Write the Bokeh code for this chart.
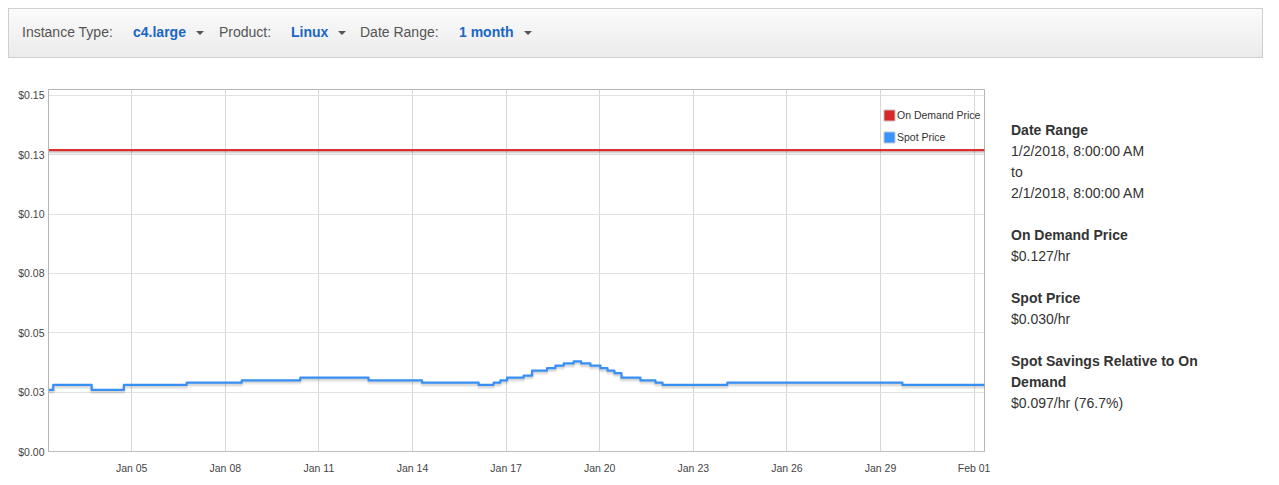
import pandas as pd
from bokeh.plotting import figure
from bokeh.models import (Div, FixedTicker, DatetimeTickFormatter, Range1d,
                          Legend, LegendItem, ColumnDataSource)
from bokeh.layouts import column, row
from bokeh.embed import file_html
from bokeh.resources import INLINE

# ---------------- data ----------------
instance_type = "c4.large"
product = "Linux"
date_range_label = "1 month"

range_start = "2018-01-02 08:00"
range_end = "2018-02-01 08:00"

on_demand_price = 0.127

spot_times = [
    "2018-01-02 08:00", "2018-01-02 11:40", "2018-01-03 17:10", "2018-01-04 18:00",
    "2018-01-06 18:20", "2018-01-08 12:40", "2018-01-10 09:40", "2018-01-12 14:10",
    "2018-01-14 07:20", "2018-01-16 02:50", "2018-01-16 14:25", "2018-01-16 19:35",
    "2018-01-17 00:45", "2018-01-17 13:30", "2018-01-17 20:00", "2018-01-18 07:30",
    "2018-01-18 13:55", "2018-01-18 20:20", "2018-01-19 04:00", "2018-01-19 09:45",
    "2018-01-19 16:50", "2018-01-20 00:35", "2018-01-20 06:00", "2018-01-20 11:20",
    "2018-01-20 16:45", "2018-01-21 07:20", "2018-01-21 18:55", "2018-01-22 00:20",
    "2018-01-24 02:10", "2018-01-29 16:50", "2018-02-01 08:00",
]
spot_prices = [
    0.0260, 0.0281, 0.0260, 0.0281,
    0.0290, 0.0300, 0.0311, 0.0300,
    0.0290, 0.0281, 0.0290, 0.0300,
    0.0311, 0.0320, 0.0341, 0.0351,
    0.0362, 0.0371, 0.0380, 0.0371,
    0.0362, 0.0351, 0.0341, 0.0330,
    0.0311, 0.0300, 0.0290, 0.0281,
    0.0290, 0.0281, 0.0281,
]

x_tick_dates = ["2018-01-05", "2018-01-08", "2018-01-11", "2018-01-14", "2018-01-17",
                "2018-01-20", "2018-01-23", "2018-01-26", "2018-01-29", "2018-02-01"]
y_ticks = [0.0, 0.025, 0.05, 0.075, 0.10, 0.125, 0.15]
y_tick_labels = ["$0.00", "$0.03", "$0.05", "$0.08", "$0.10", "$0.13", "$0.15"]

legend_labels = ["On Demand Price", "Spot Price"]

summary_range_from = "1/2/2018, 8:00:00 AM"
summary_range_to = "2/1/2018, 8:00:00 AM"
summary_on_demand = "$0.127/hr"
summary_spot = "$0.030/hr"
summary_savings = "$0.097/hr (76.7%)"

# ---------------- styles ----------------
FONT = "'Liberation Sans', Arial, sans-serif"
RED = "#d9302f"
BLUE = "#3890f4"
Y_END = 0.1525
FRAME_H = 362

# ---------------- header ----------------
def caret(left):
    return (f'<span style="position:absolute;left:{left}px;top:22px;width:0;height:0;'
            f'border-left:4px solid transparent;border-right:4px solid transparent;'
            f'border-top:4px solid #555;"></span>')

def lab(left, txt):
    return (f'<span style="position:absolute;left:{left}px;top:15px;line-height:16px;'
            f'color:#555;">{txt}</span>')

def val(left, txt):
    return (f'<span style="position:absolute;left:{left}px;top:15px;line-height:16px;'
            f'color:#1a66c4;font-weight:bold;">{txt}</span>')

header_html = (
    f'<div style="position:relative;box-sizing:border-box;width:1255px;height:50px;'
    f'border:1px solid #cfcfcf;background:linear-gradient(#fbfbfb,#ebebeb);'
    f'font-family:{FONT};font-size:14px;">'
    + lab(13, "Instance Type:") + val(124, instance_type) + caret(187)
    + lab(210, "Product:") + val(282, product) + caret(329)
    + lab(351, "Date Range:") + val(450, date_range_label) + caret(515)
    + '</div>'
)
header = Div(text=header_html, width=1255, height=50, margin=(8, 0, 0, 8))

# ---------------- chart ----------------
t_start = pd.Timestamp(range_start)
t_end = pd.Timestamp(range_end)
times = pd.to_datetime(spot_times)

p = figure(width=1000, height=418, x_axis_type="datetime",
           output_backend="svg", toolbar_location=None,
           x_range=Range1d(t_start, t_end), y_range=Range1d(0, Y_END),
           min_border_left=40, min_border_right=24,
           min_border_top=31, min_border_bottom=25, margin=(0, 0, 0, 8))
p.background_fill_color = "white"
p.border_fill_color = "white"
p.outline_line_color = "#b5b5b5"
p.outline_line_width = 1

px = Y_END / FRAME_H

od_x = [t_start, t_end]
od_y = [on_demand_price, on_demand_price]

# legend proxies (zero-area quads, hidden under the lines)
r_od = p.quad(left=od_x[:1], right=od_x[:1], bottom=od_y[:1], top=od_y[:1],
              fill_color="#d42a2a", line_color="#d8d8d8", line_width=1)
r_sp = p.quad(left=[times[0]], right=[times[0]], bottom=spot_prices[:1], top=spot_prices[:1],
              fill_color="#3993f8", line_color="#d8d8d8", line_width=1)

# on demand line
p.line(od_x, [v - 2.0 * px for v in od_y], line_color="#000000", line_alpha=0.06, line_width=5)
p.line(od_x, [v - 1.5 * px for v in od_y], line_color="#000000", line_alpha=0.10, line_width=3)
p.line(od_x, od_y, line_color=RED, line_width=2.2)

# spot line
src = ColumnDataSource(dict(t=times, y=spot_prices))
src_sh1 = ColumnDataSource(dict(t=times, y=[v - 2.0 * px for v in spot_prices]))
src_sh2 = ColumnDataSource(dict(t=times, y=[v - 1.5 * px for v in spot_prices]))
p.step("t", "y", source=src_sh1, mode="after", line_color="#000000", line_alpha=0.06, line_width=5)
p.step("t", "y", source=src_sh2, mode="after", line_color="#000000", line_alpha=0.10, line_width=3)
p.step("t", "y", source=src, mode="after", line_color=BLUE, line_width=2.2, line_join="round")

legend = Legend(items=[LegendItem(label=legend_labels[0], renderers=[r_od]),
                       LegendItem(label=legend_labels[1], renderers=[r_sp])],
                location=(834, 307), orientation="vertical",
                glyph_width=14, glyph_height=14, label_height=14, label_width=20,
                label_standoff=1, spacing=8, padding=0, margin=0,
                label_text_font=FONT, label_text_font_size="10.5px",
                label_text_color="#333333", label_text_baseline="middle",
                background_fill_alpha=0, border_line_color=None)
p.add_layout(legend)

# axes
tick_ms = [pd.Timestamp(d).value // 10**6 for d in x_tick_dates]
p.xaxis.ticker = FixedTicker(ticks=tick_ms)
p.xaxis.formatter = DatetimeTickFormatter(days="%b %d", months="%b %d", hours="%b %d")
p.xaxis.major_tick_line_color = None
p.xaxis.minor_tick_line_color = None
p.xaxis.major_tick_out = 0
p.xaxis.major_label_standoff = 10
p.xaxis.axis_line_color = "#bdbdbd"
p.xaxis.axis_line_width = 1
p.xaxis.major_label_text_font = FONT
p.xaxis.major_label_text_font_size = "10.5px"
p.xaxis.major_label_text_color = "#444444"

p.yaxis.ticker = FixedTicker(ticks=y_ticks)
p.yaxis.major_label_overrides = {t: l for t, l in zip(y_ticks, y_tick_labels)}
p.yaxis.major_tick_line_color = None
p.yaxis.minor_tick_line_color = None
p.yaxis.major_tick_out = 0
p.yaxis.major_label_standoff = 4
p.yaxis.axis_line_color = "#b5b5b5"
p.yaxis.major_label_text_font = FONT
p.yaxis.major_label_text_font_size = "10.5px"
p.yaxis.major_label_text_color = "#444444"

p.xgrid.grid_line_color = "#d6d6d6"
p.ygrid.grid_line_color = "#e2e2e2"

# ---------------- right panel ----------------
def head(t):
    return f'<div style="font-weight:bold;">{t}</div>'

def line(t):
    return f'<div>{t}</div>'

side_html = (
    f'<div style="font-family:{FONT};font-size:14px;line-height:21px;color:#333;'
    f'padding-left:3px;padding-top:62px;width:225px;">'
    + head("Date Range") + line(summary_range_from) + line("to") + line(summary_range_to)
    + '<div style="height:21px"></div>'
    + head("On Demand Price") + line(summary_on_demand)
    + '<div style="height:21px"></div>'
    + head("Spot Price") + line(summary_spot)
    + '<div style="height:21px"></div>'
    + head("Spot Savings Relative to On Demand") + line(summary_savings)
    + '</div>'
)
side = Div(text=side_html, width=240, height=418, margin=0)

layout = column(header, row(p, side, margin=0), margin=0)

with open("out.html", "w") as f:
    f.write(file_html(layout, INLINE))
